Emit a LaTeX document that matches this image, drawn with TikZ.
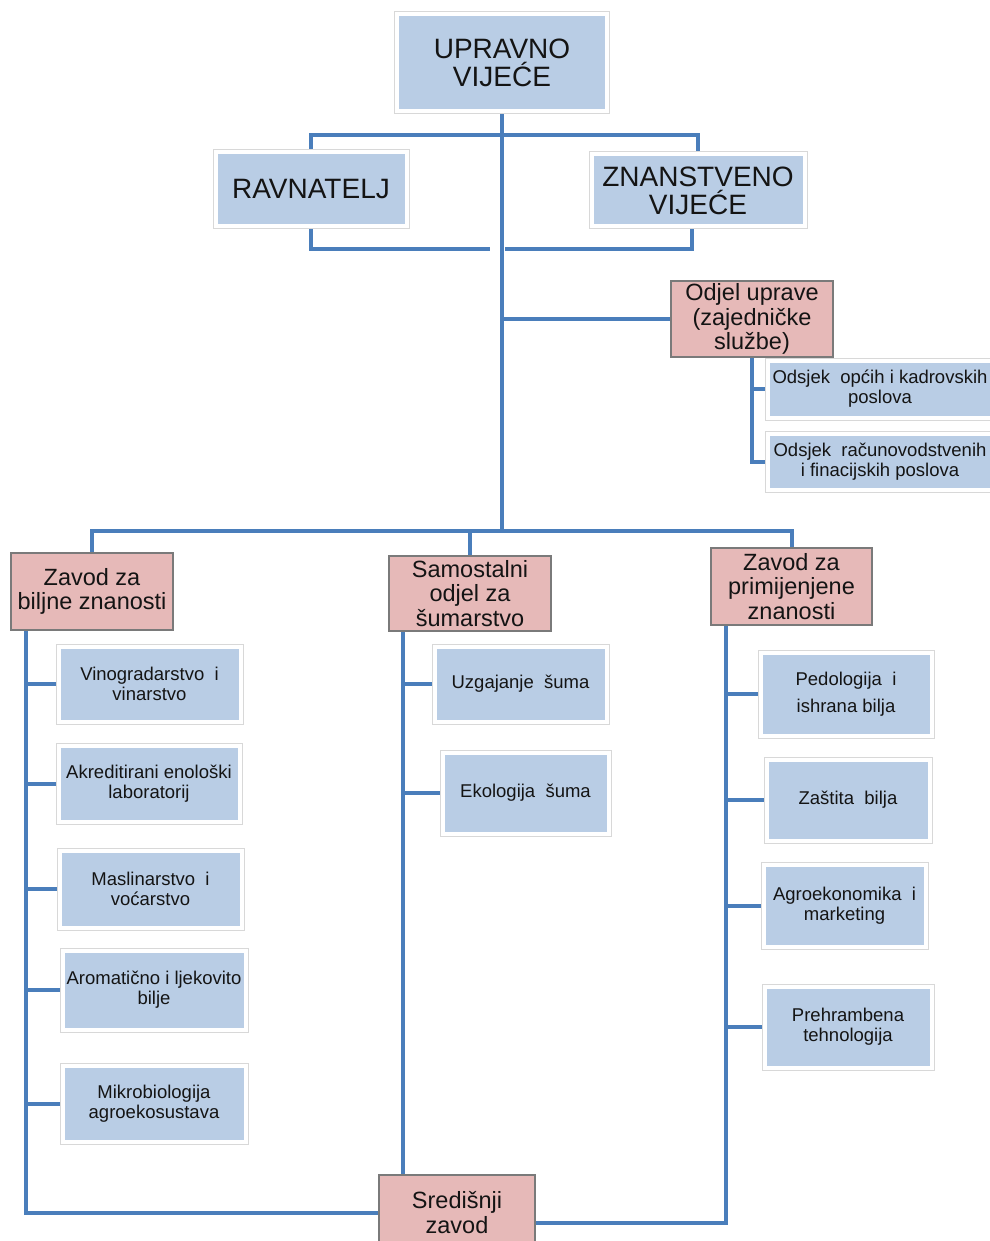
\documentclass[tikz,border=0pt]{standalone}
\usepackage{fontspec}
\setmainfont{Liberation Sans}
\pgfdeclarelayer{background}
\pgfsetlayers{background,main}
\definecolor{bfill}{HTML}{B9CDE5}
\definecolor{pfill}{HTML}{E6B9B8}
\definecolor{pborder}{HTML}{7A7A7A}
\definecolor{fgray}{HTML}{D8D8D8}
\definecolor{lcol}{HTML}{4A7EBB}
\definecolor{tcol}{HTML}{141414}
\tikzset{
  frame/.style={rectangle, fill=bfill, draw=white, line width=4pt,
    preaction={draw=fgray, line width=6pt}, inner sep=0pt, align=center, text=tcol},
  bigbox/.style={frame, font=\fontsize{28}{28}\selectfont},
  subbox/.style={frame, font=\fontsize{18.5}{19.8}\selectfont},
  pinkbox/.style={rectangle, fill=pfill, draw=pborder, line width=1.2pt, inner sep=0pt,
    align=center, text=tcol, font=\fontsize{23.5}{24.5}\selectfont},
  conn/.style={draw=lcol, line width=4pt}
}
\begin{document}
\begin{tikzpicture}[x=1pt,y=-1pt]
\useasboundingbox (0,0) rectangle (989,1241);
% top level
\node[bigbox, minimum width=210pt, minimum height=97pt] (uv) at (502,63) {UPRAVNO\\VIJEĆE};
\node[bigbox, minimum width=191pt, minimum height=74pt] (rav) at (311,189.5) {RAVNATELJ};
\node[bigbox, minimum width=213pt, minimum height=72pt] (zv) at (698,190.5) {ZNANSTVENO\\VIJEĆE};
% odjel uprave
\node[pinkbox, minimum width=162pt, minimum height=76pt] (ou) at (752,319) {Odjel uprave\\(zajedničke\\službe)};
\node[subbox, minimum width=225pt, minimum height=57pt] (o1) at (880,389) {Odsjek~ općih i kadrovskih\\poslova};
\node[subbox, minimum width=225pt, minimum height=56pt] (o2) at (880,461.5) {Odsjek~ računovodstvenih\\i finacijskih poslova};
% three departments
\node[pinkbox, minimum width=162pt, minimum height=77pt] (zb) at (92,591.5) {Zavod za\\biljne znanosti};
\node[pinkbox, minimum width=162pt, minimum height=75pt] (ss) at (470,593.5) {Samostalni\\odjel za\\šumarstvo};
\node[pinkbox, minimum width=161pt, minimum height=77pt] (zp) at (791.5,586.5) {Zavod za\\primijenjene\\znanosti};
% left column
\node[subbox, minimum width=182pt, minimum height=75pt] (b1) at (149.5,684) {Vinogradarstvo~ i\\vinarstvo};
\node[subbox, minimum width=181pt, minimum height=76pt] (b2) at (149,783.5) {Akreditirani enološki\\laboratorij};
\node[subbox, minimum width=182pt, minimum height=77pt] (b3) at (150.5,889) {Maslinarstvo~ i\\voćarstvo};
\node[subbox, minimum width=183pt, minimum height=79pt] (b4) at (154,990) {Aromatično i ljekovito\\bilje};
\node[subbox, minimum width=183pt, minimum height=76pt] (b5) at (154,1103.5) {Mikrobiologija\\agroekosustava};
% middle column
\node[subbox, minimum width=172pt, minimum height=75pt] (m1) at (520.5,684) {Uzgajanje~ šuma};
\node[subbox, minimum width=166pt, minimum height=81pt] (m2) at (525.5,793) {Ekologija~ šuma};
% right column
\node[subbox, minimum width=171pt, minimum height=83pt, font=\fontsize{18.5}{27}\selectfont] (r1) at (846,694) {Pedologija~ i\\ishrana bilja};
\node[subbox, minimum width=163pt, minimum height=81pt] (r2) at (848,800) {Zaštita~ bilja};
\node[subbox, minimum width=162pt, minimum height=82pt] (r3) at (844.5,905.5) {Agroekonomika~ i\\marketing};
\node[subbox, minimum width=167pt, minimum height=81pt] (r4) at (848,1027) {Prehrambena\\tehnologija};
% central institute
\node[pinkbox, minimum width=156pt, minimum height=75pt] (sz) at (457,1212.5) {Središnji\\zavod};
% connectors
\coordinate (j1) at (502,531);
\coordinate (jt) at (502,135);
\coordinate (jl) at (490,249);
\coordinate (jr) at (505,249);
\begin{pgfonlayer}{background}
\draw[conn] (uv.south) -- (j1);
\draw[conn] (rav.north) |- (jt) -| (zv.north);
\draw[conn] (rav.south) |- (jl);
\draw[conn] ([xshift=-6pt]zv.south) |- (jr);
\draw[conn] (ou.west) -- (ou.west -| j1);
\draw[conn] (ou.south) |- (o1.west);
\draw[conn] (ou.south) |- (o2.west);
\draw[conn] (zb.north) |- (j1) -| (zp.north);
\draw[conn] (ss.north) -- (ss.north |- j1);
\coordinate (lc) at ([xshift=16pt]zb.south west);
\draw[conn] (lc) |- (sz.west);
\foreach \n in {b1,b2,b3,b4,b5} \draw[conn] (lc |- \n.west) -- (\n.west);
\coordinate (mc) at ([xshift=15pt]ss.south west);
\draw[conn] (mc) -- (mc |- sz.north);
\foreach \n in {m1,m2} \draw[conn] (mc |- \n.west) -- (\n.west);
\coordinate (rc) at ([xshift=16pt]zp.south west);
\draw[conn] (rc) |- ([yshift=-10pt]sz.east);
\foreach \n in {r1,r2,r3,r4} \draw[conn] (rc |- \n.west) -- (\n.west);
\end{pgfonlayer}
\end{tikzpicture}
\end{document}
